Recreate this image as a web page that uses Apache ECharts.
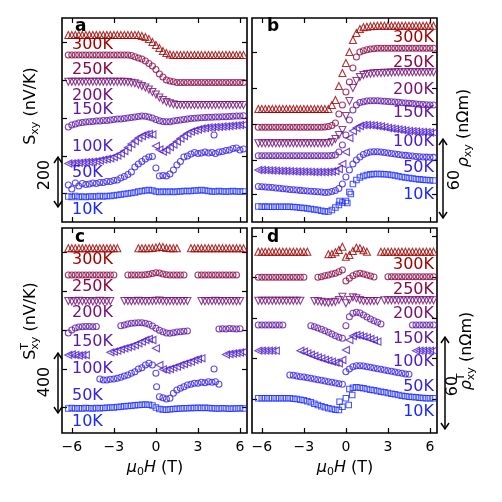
<!DOCTYPE html>
<html><head><meta charset="utf-8">
<script src="https://cdn.jsdelivr.net/npm/echarts@6/dist/echarts.min.js"></script>
<style>html,body{margin:0;padding:0;background:#fff}#c{width:502px;height:502px}</style>
</head><body><div id="c"></div>
<script>
// magnetic field grid (T)
const H = [-6.25,-6,-5.75,-5.5,-5.25,-5,-4.75,-4.5,-4.25,-4,-3.75,-3.5,-3.25,-3,-2.75,-2.5,-2.25,-2,-1.75,-1.5,-1.25,-1,-0.75,-0.5,-0.25,0,0.25,0.5,0.75,1,1.25,1.5,1.75,2,2.25,2.5,2.75,3,3.25,3.5,3.75,4,4.25,4.5,4.75,5,5.25,5.5,5.75,6,6.25];
const temps = ['300K','250K','200K','150K','100K','50K','10K'];
const xTicks = [-6,-3,0,3,6];

// Panel a : S_xy (offset curves, arbitrary offset units)
const a300 = [187,187,187,187,187,187,187,187,187,187,187,187,187,187,187,187,187,187,187,187,187,186,185,183,180,177,174,171,169,167.5,167,167,167,167,167,167,167,167,167,167,167,167,167,167,167,167,167,167,167,167,167];
const a250 = [167,167,167,167,167,167,167,167,167,167,167,167,167,167,167,167,167,167,166.5,165.3,164,163,161,158.5,156,152.5,148,145,142,141,140.3,139.5,139.5,139.5,139.5,139.5,139.5,139.5,139.5,139.5,139.5,139.5,139.5,139.5,139.5,139.5,139.5,139.5,139.5,139.5,139.5];
const a200 = [140.3,140.3,140.3,140.3,140.3,140.3,140.3,140.3,140.3,140.3,140.3,140.3,140.3,140.3,140.3,140.3,140.3,140,139.3,138.7,137.5,136,134.5,132.5,130,127.5,124.5,122,120,118.7,117.7,117,117,117,117,117,117,117,117,117,117,117,117,117,117,117,117,117,117,117,117];
const a150 = [95,97,98,99,99.5,100,100.3,100.5,101,101,101.5,101.5,102,102.5,103,103,103.5,104,104.5,105,105.5,106,105.8,105,104,102.5,101.3,100.5,100.3,100.3,101,101.5,102,102.5,103,103.5,103.7,104,104.3,104.5,104.7,104.7,105,105,105.3,105.3,105.5,105.7,106,106,106.3];
const a100 = [58.5,58.7,59,59.2,59.5,59.8,60,60.3,60.8,61.5,62.3,63,63.7,65,66.5,68.5,71,74.5,78,81,84,86,87.5,88,87.5,76,72.5,70.5,72,75,77.5,80.5,83.5,86,88.5,90.3,91.5,92.5,93.5,94,94.5,94.7,95,95.2,95.5,95.7,96,96.3,96.7,97,97.2];
const a50 = [37,33,39,36,38.5,37.5,38,39,38.5,39.5,39.5,40.5,40.5,41.5,42,44,45.5,47.5,50,55,58,60.5,63,65,65.5,54,46,46.5,46,48,52,57,60.5,65,66,68,69.5,68.5,69,70,69,69.5,68.5,70,70.5,71.5,72,73.5,74,72,73];
const a10 = [25.5,25,26,25,25.5,25,25.5,25.5,25.5,26,25.5,26,26,26.5,27,27.5,28,28.5,29,29.5,30.5,31,31.5,32,31.5,30.5,30,30.5,30,30.5,30,30.5,30.5,31,31,31,31.5,31.5,32,31.5,31,30.5,30.5,31,30.5,30.5,30.5,31,30.5,30.5,30.5];

// Panel b : rho_xy
const b300 = [113,113,113,113,113,113,113,113,113,113,113,113,113,113,113,113,113,113,113,113,113,117,122,136,149,159,170,182,189,193,194.7,195.3,195.7,196,196.3,196.3,196.3,196.3,196.3,196.3,196.3,196.3,196.3,196.3,196.3,196.3,196.3,196.3,196.3,196.3,196.3];
const b250 = [94.7,94.7,94.7,94.7,94.7,94.7,94.7,94.7,94.7,94.7,94.7,94.7,94.7,94.7,94.7,94.7,94.7,94.7,94.7,95,95.5,96.5,99,108,117,130,140,154,165,170,171.3,172.3,173,173.3,173.7,173.7,173.7,173.7,173.7,173.7,173.7,173.7,173.7,173.7,173.7,173.7,173.7,173.7,173.7,173.7,173.7];
const b200 = [78.7,78.7,78.7,78.7,78.7,78.7,78.7,78.7,78.7,78.7,78.7,78.7,78.7,78.7,78.7,78.7,78.7,78.7,78.7,78.7,79,80,83,87,92,106,121,134,141,145,147,148,148.3,148.7,149,149,149.2,149.3,149.4,149.7,149.7,149.7,149.7,149.7,149.7,149.7,149.7,149.7,149.7,149.7,149.7];
const b150 = [66.3,66.3,66.3,66.3,66.3,66.3,66.3,66.3,66.3,66.3,66.3,66.3,66.3,66.3,66.3,66.3,66.3,66.3,66.3,66.3,66.3,66.5,67,70,77,87,102,112,117,119.5,120.3,121,121.2,121.3,121.2,121,120.8,120.5,120.2,120,119.7,119.3,119,118.7,118.4,118,117.8,117.5,117.3,117,117];
const b100 = [52,52,51.8,51.7,51.5,51.3,51.2,51,51,50.8,50.7,50.5,50.5,50.3,50.3,50.2,50,50,50,50,50.2,50.5,51,53,58,70,84,91,94,96,97,97,96.8,96.5,96,95.5,94.8,94,93.5,93,92.5,92,91.5,91,90.8,90.5,90.2,90,89.8,89.5,89.3];
const b50 = [35.5,35.3,35,34.7,34.5,34,33.7,33.3,33,32.5,32.2,32,31.6,31.3,31,30.7,30.5,30.3,30,29.5,29.7,30.5,31.5,33.5,38,45,52,58,62,65,67.5,69,70,70.3,70.3,70,69.5,69,68.5,68,67.5,67,66.6,66.3,66,65.5,65.3,65,64.9,64.7,64.6];
const b10 = [15.5,15.3,15.4,15.3,15.3,15.2,15.3,15.3,15.2,15.2,15,14.8,14.3,14,13.5,13,12.5,12,11.2,10.5,10.5,12,14.5,17,19.5,21,30,38,42,44.5,46,47,47.6,48,48,48,47.8,47.5,47,46.5,45.8,45,44.5,44,43.5,43,42.6,42.3,42,41.7,41.5];

// Panel c : S^T_xy (null = no data)
const c300 = [184.7,184.7,184.7,184.7,184.7,184.7,184.7,184.7,184.7,184.7,184.7,184.7,184.7,184.7,184.7,null,null,null,null,null,184.7,184.7,184.7,184.7,185,185.5,186.3,186,185,184.7,184.7,184.7,null,null,null,184.7,184.7,184.7,184.7,184.7,184.7,184.7,184.7,184.7,184.7,184.7,184.7,184.7,184.7,184.7,184.7];
const c250 = [158,158,158,158,158,158,158,158,158,158,158,158,158,158,null,null,null,158,158,158,158,158,158.3,158.7,159.5,160.3,160,159,158.3,158,158,158,158,158,null,null,null,158,158,158,158,158,158,158,158,158,158,158,158,null,null];
const c200 = [132,131.5,132,132.3,131.7,132,132,131.5,132,132.3,132,131.7,132,null,null,null,132,132,131.7,132,132.3,132,131.7,132,132,132.3,132.5,132,131.7,132,132,131.7,132,132,132,null,null,null,132,131.7,132,132,132.3,132,131.7,132,132,132,131.7,132,null];
const c150 = [100,103,105,106,106.3,106.5,106.5,106.3,106.5,null,null,null,null,null,null,107.3,108,109,109.7,110,110.3,110.3,109.7,108.7,107,104.7,102.7,101.3,100,99.7,100.3,101,101.3,101.7,102,null,null,null,null,null,null,null,null,104,104.3,104,104.5,104.3,104,104.3,null];
const c100 = [78,78.5,78,77.5,78,78,null,null,null,null,null,null,80.7,81.3,82.3,83.7,84.7,85.7,86.7,88,89.7,91.3,93,94,93,84.7,68,63.7,63,64,65.3,66.3,68,69,70.3,71.3,73,74,74.7,null,null,null,null,null,null,78.5,79,79.5,80,80.5,81];
const c50 = [null,null,null,null,null,null,null,null,null,54,53,53,53.7,54,54.7,55.7,57,58,59.7,61.3,64,65.3,68,69.7,68,59.7,36.3,35.3,34,34.7,39.7,43,44.7,46.3,48,48.7,49.7,49.7,50.7,50.3,51.3,50.7,51.3,48.7,null,null,null,null,null,null,null];
const c10 = [24.5,25,24.5,24.8,24.5,25,24.7,24.5,25,24.7,25,25.2,25.5,25.5,26,26.3,26.7,27,27.3,27.7,28,28.3,28.5,28.3,27.5,25.5,24,23.5,23.3,23.7,24,24.3,24.5,24.7,24.7,25,25,25.3,25,25.2,25,24.7,24.5,24.5,24.7,24.5,24.3,24.5,24.5,24.7,24.5];

// Panel d : rho^T_xy
const d300 = [181.3,181.3,181.3,181.3,181.3,181.3,181.3,181.3,181.3,181.3,181.3,181.3,181.3,181.3,181.3,null,null,null,null,null,178.7,179,180.7,183,186.3,176.3,178,182,185.3,184.7,182.7,181.3,null,null,null,181.3,181.3,181.3,181.3,181.3,181.3,181.3,181.3,181.3,181.3,181.3,181.3,181.3,181.3,181.3,181.3];
const d250 = [155.7,155.7,155.7,155.7,155.7,155.7,155.7,155.7,155.7,155.7,155.7,155.7,155.7,155.7,null,null,null,155.7,156.3,157.3,158,159,159.7,161.3,163,152,154.7,157.3,159,159.7,159,158,157,156,null,null,null,156.3,156.3,156.3,156.3,156.3,156.3,156.3,156.3,156.3,156.3,156.3,156.3,156.3,156.3];
const d200 = [132.3,132.3,132.3,132.3,132.3,132.3,132.3,132.3,132.3,132.3,132.3,132.3,132.3,null,null,null,132,131.7,131.3,130.7,130.3,130.7,131.3,133,136.3,129.7,133,135.7,134.7,133,132,132,132,132,132,null,132.7,132.7,132.7,132.7,132.7,132.7,132.7,132.7,132.7,132.7,132.7,132.7,132.7,132.7,132.7];
const d150 = [108,108,108,108,108,108,108,108,null,null,null,null,null,null,null,107.3,106.3,105,103.7,102.3,100.7,99,97.3,95.7,94.7,107.3,116.3,119.7,120.7,120,118,116,114,112.3,110.7,109,null,null,null,null,null,null,null,null,108,108,108,108,108,108,108];
const d100 = [82.3,82.3,82.3,82.3,82.3,82.3,null,null,null,null,null,null,82.3,81.3,79.7,78.3,77,75.7,74.7,73.3,72.3,71.3,70.3,69.7,73,83,93,97,98,97.3,96.3,95.3,94,92.7,91.3,null,null,null,null,null,null,null,null,null,null,82.3,82.3,82.3,82.3,82.3,82.3];
const d50 = [null,null,null,null,null,null,null,null,null,58,57.7,57,56.3,56,55.3,54.7,54,53.3,52.7,52,51.3,50.7,50,49.3,48.7,61.3,64,66.3,67.3,67.3,67,66.3,65.7,65,64.3,63.7,63,62.3,61.7,61,60.3,59.7,59,58.7,null,null,null,null,null,null,null];
const d10 = [34.7,34.7,34.7,34.7,34.7,34.7,34.7,34.7,34.7,34.7,34.3,34,33.3,32.7,31.7,30.7,29.3,28,26.7,25.7,24.7,24,23.3,23,26.3,34.7,44,45.3,45.7,45.3,44.7,44,43.3,42.7,42,41.3,40.7,40,39.3,38.7,38,37.3,36.7,36.3,36,35.7,35.3,35,34.7,34.7,34.7];

// a few scattered points near zero field ([H, value])
const a50x = [[4.15,87]];
const b10x = [[-0.45,21],[0.1,19],[0.35,28]];
const c50x = [[0.05,46.3],[4.15,64]];
const d10x = [[-0.45,31.3],[0.2,28],[0.45,38]];

// y tick positions (offset units)
const yTicksA = [29,66,104,142,180];
const yTicksB = [28,62,97.7,133.7,169.3];
const yTicksC = [25.3,64,102.3,142,181];
const yTicksD = [34,74.7,114.7,155.7,196.3];

const colors = ['#9e0000','#8a0a48','#74107a','#5e18a6','#4c1ccc','#3622e6','#1a2aff'];
const markers = [
  {symbol:'triangle', rotate:0, size:7},
  {symbol:'circle', rotate:0, size:6},
  {symbol:'triangle', rotate:180, size:7},
  {symbol:'circle', rotate:0, size:6},
  {symbol:'triangle', rotate:90, size:7},
  {symbol:'circle', rotate:0, size:6},
  {symbol:'rect', rotate:0, size:5.5}
];

const panels = [
  {curves:[a300,a250,a200,a150,a100,a50,a10], extra:{5:a50x}, yTicks:yTicksA, ymax:204,
   grid:{left:62, top:18, width:185, height:204}, xlabels:false},
  {curves:[b300,b250,b200,b150,b100,b50,b10], extra:{6:b10x}, yTicks:yTicksB, ymax:204,
   grid:{left:252, top:18, width:185, height:204}, xlabels:false},
  {curves:[c300,c250,c200,c150,c100,c50,c10], extra:{5:c50x}, yTicks:yTicksC, ymax:205,
   grid:{left:62, top:228, width:185, height:205}, xlabels:true},
  {curves:[d300,d250,d200,d150,d100,d50,d10], extra:{6:d10x}, yTicks:yTicksD, ymax:205,
   grid:{left:252, top:228, width:185, height:205}, xlabels:true}
];

const FF = '"DejaVu Sans", sans-serif';
const fmt = v => v < 0 ? '\u2212' + (-v) : String(v);
const tickStyle = {color:'#000', width:1.2};

const grids = [], xAxes = [], yAxes = [], series = [];
panels.forEach((p, g) => {
  grids.push(Object.assign({show:true, borderColor:'#000', borderWidth:1.6, backgroundColor:'rgba(0,0,0,0)'}, p.grid));
  ['bottom','top'].forEach(pos => xAxes.push({
    gridIndex:g, type:'value', min:-6.7, max:6.5, position:pos,
    axisLine:{show:false, onZero:false}, splitLine:{show:false},
    axisTick:{show:true, inside:true, length:5, customValues:xTicks, lineStyle:tickStyle},
    axisLabel:{show: p.xlabels && pos==='bottom', customValues:xTicks, formatter:fmt,
      fontSize:14, fontFamily:FF, color:'#000', margin:7}
  }));
  ['left','right'].forEach(pos => yAxes.push({
    gridIndex:g, type:'value', min:0, max:p.ymax, position:pos,
    axisLine:{show:false, onZero:false}, splitLine:{show:false}, axisLabel:{show:false},
    axisTick:{show:true, inside:true, length:5, customValues:p.yTicks, lineStyle:tickStyle}
  }));
  p.curves.forEach((vals, k) => {
    const pts = [];
    vals.forEach((v, i) => { if (v !== null) pts.push([H[i], v]); });
    if (p.extra[k]) p.extra[k].forEach(q => pts.push(q));
    const m = markers[k];
    series.push({
      type:'scatter', name: temps[k], xAxisIndex: 2*g, yAxisIndex: 2*g, data: pts,
      symbol: m.symbol, symbolRotate: m.rotate, symbolSize: m.size,
      itemStyle:{color:'rgba(0,0,0,0)', borderColor: colors[k], borderWidth:1.1},
      silent:true, animation:false, z: 2 + (6-k)
    });
  });
});

// ---- text & annotations ----
const ctx = document.createElement('canvas').getContext('2d');
const measure = (t, font) => { ctx.font = font; return ctx.measureText(t).width; };
const F = (s, it) => (it ? 'italic ' : '') + s + 'px ' + FF;

function composite(pieces, cx, cy, rot) {
  let x = 0; const kids = [];
  pieces.forEach(p => {
    kids.push({type:'text', x:x, y:p.dy || 0,
      style:{text:p.t, font:p.font, fill:'#000', align:'left', verticalAlign:'middle',
             textAlign:'left', textVerticalAlign:'middle'}});
    if (p.adv !== false) x += measure(p.t, p.font);
  });
  kids.forEach(k => k.x -= x/2);
  return {type:'group', x:cx, y:cy, rotation:rot, children:kids, z:100};
}
function text(t, x, y, font, color, align) {
  return {type:'text', x:x, y:y, z:100,
    style:{text:t, font:font, fill:color, align:align, verticalAlign:'middle', textAlign:align, textVerticalAlign:'middle'}};
}
function arrow(x, y1, y2) {
  const st = {stroke:'#000', lineWidth:1.5, fill:null};
  return [
    {type:'line', z:100, shape:{x1:x, y1:y1, x2:x, y2:y2}, style:st},
    {type:'polyline', z:100, shape:{points:[[x-4,y1+6],[x,y1],[x+4,y1+6]]}, style:st},
    {type:'polyline', z:100, shape:{points:[[x-4,y2-6],[x,y2],[x+4,y2-6]]}, style:st}
  ];
}

const R = Math.PI/2;
const big = F(16), sub = F(11);
const graphics = [];
// panel letters
[['a',75,27],['b',267,26.5],['c',75,238],['d',267,238]].forEach(l =>
  graphics.push(text(l[0], l[1], l[2], 'bold 17px ' + FF, '#000', 'left')));
// temperature labels
const labA = [45,70,96,110,147,173,210], labB = [38,63,90,113,142,168,195];
const labC = [260,287,313,342,369,396,422], labD = [265,290,314,339,362,387,412];
temps.forEach((t, k) => {
  graphics.push(text(t, 72, labA[k], big, colors[k], 'left'));
  graphics.push(text(t, 434, labB[k], big, colors[k], 'right'));
  graphics.push(text(t, 72, labC[k], big, colors[k], 'left'));
  graphics.push(text(t, 434, labD[k], big, colors[k], 'right'));
});
// axis titles
graphics.push(composite([{t:'S',font:big},{t:'xy',font:sub,dy:4},{t:' (nV/K)',font:big}], 31, 106, R));
graphics.push(composite([{t:'S',font:big},{t:'T',font:sub,dy:-6,adv:false},{t:'xy',font:sub,dy:4},{t:' (nV/K)',font:big}], 31, 321, R));
graphics.push(composite([{t:'\u03c1',font:F(16,true)},{t:'xy',font:sub,dy:4},{t:' (n\u03a9m)',font:big}], 464, 128, R));
graphics.push(composite([{t:'\u03c1',font:F(16,true)},{t:'T',font:sub,dy:-6,adv:false},{t:'xy',font:sub,dy:4},{t:' (n\u03a9m)',font:big}], 467, 351, R));
graphics.push(composite([{t:'\u03bc',font:F(16,true)},{t:'0',font:sub,dy:4},{t:'H',font:F(16,true)},{t:' (T)',font:big}], 155, 468, 0));
graphics.push(composite([{t:'\u03bc',font:F(16,true)},{t:'0',font:sub,dy:4},{t:'H',font:F(16,true)},{t:' (T)',font:big}], 345, 468, 0));
// scale bars
graphics.push(composite([{t:'200',font:big}], 45, 175, R));
graphics.push(composite([{t:'400',font:big}], 45, 382, R));
graphics.push(composite([{t:'60',font:big}], 455, 180, R));
graphics.push(composite([{t:'60',font:big}], 453, 386, R));
arrow(58,157,207).concat(arrow(58,353,413), arrow(443,139,218), arrow(445,337,429)).forEach(e => graphics.push(e));

const chart = echarts.init(document.getElementById('c'), null, {renderer:'canvas'});
chart.setOption({
  backgroundColor:'#fff', animation:false,
  grid:grids, xAxis:xAxes, yAxis:yAxes, series:series, graphic:graphics
});
</script></body></html>
